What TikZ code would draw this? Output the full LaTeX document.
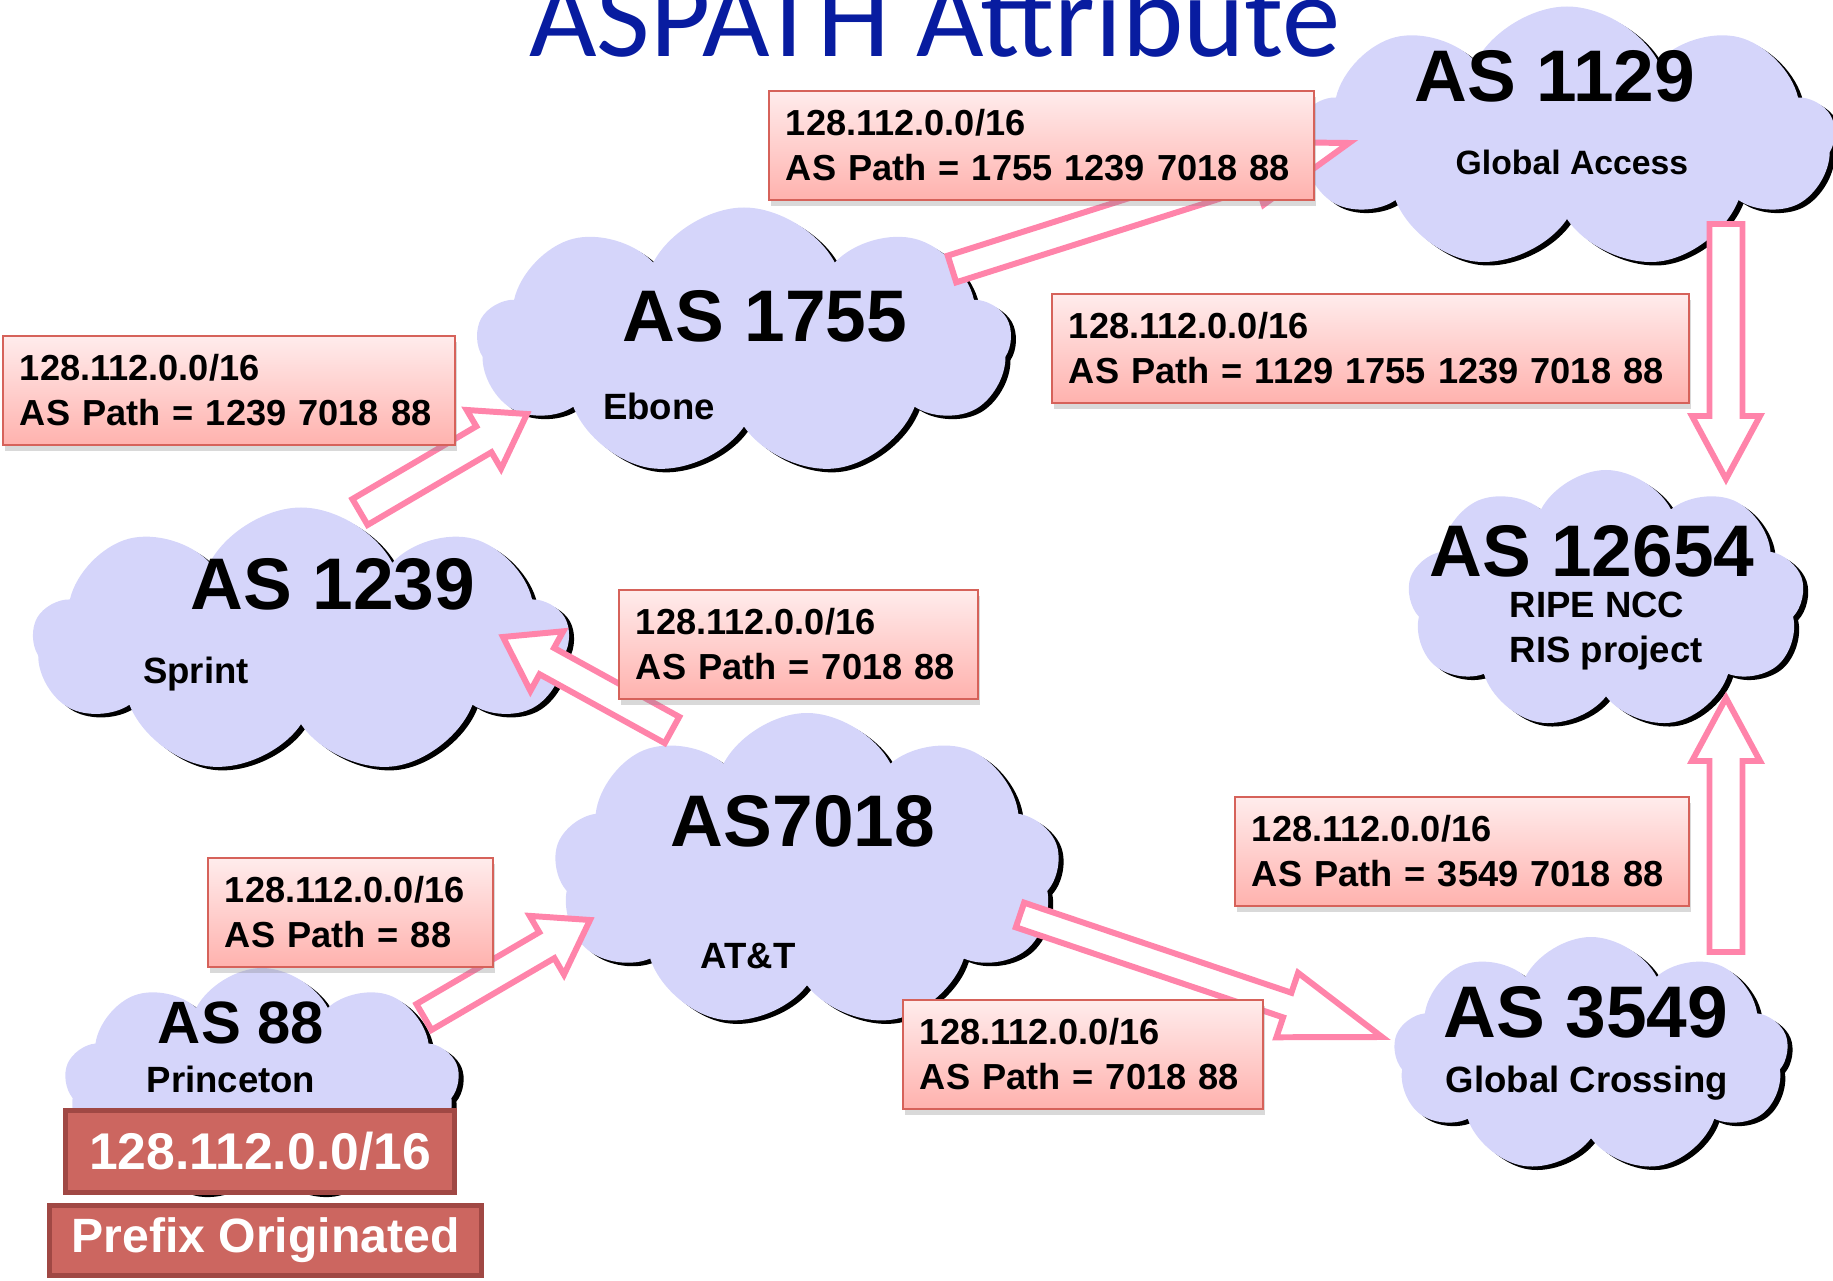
\documentclass[tikz,border=0pt]{standalone}
\usepackage{fontspec}
\setmainfont{Liberation Sans}
\newfontfamily\titlefont{Carlito}
\usetikzlibrary{calc, positioning, shapes.symbols, shadows}

\definecolor{cloudfill}{RGB}{213,213,250}
\definecolor{arrpink}{RGB}{255,132,170}
\definecolor{boxtop}{RGB}{255,236,236}
\definecolor{boxbot}{RGB}{255,178,174}
\definecolor{boxline}{RGB}{214,98,90}
\definecolor{prefixred}{RGB}{204,102,96}
\definecolor{prefixline}{RGB}{160,72,68}
\definecolor{titleblue}{RGB}{8,28,160}

\tikzset{
  % AS clouds
  ascloud/.style={
    cloud, cloud puffs=9, cloud puff arc=125, cloud ignores aspect,
    fill=cloudfill, inner sep=0pt,
    general shadow={fill=black, shadow xshift=0.5mm, shadow yshift=-0.35mm}
  },
  asname/.style={font=\fontsize{20.8}{25}\selectfont\bfseries, anchor=base, inner sep=0pt},
  asorg/.style={font=\fontsize{10.4}{13}\selectfont\bfseries, anchor=base, inner sep=0pt},
  % route labels
  pathbox/.style={
    rectangle, anchor=north west, draw=boxline, line width=0.5pt,
    top color=boxtop, bottom color=boxbot,
    text width=#1, align=left, minimum height=10.9mm,
    inner xsep=1.7mm, inner ysep=0pt,
    font=\fontsize{10.3}{12.8}\selectfont\bfseries,
    drop shadow={shadow xshift=0.2mm, shadow yshift=-0.6mm, opacity=0.3}
  },
  redbox/.style={rectangle, draw=prefixline, fill=prefixred, line width=1.4pt, text=white},
  % hollow block arrow
  harr/.style={draw=arrpink, fill=white, line width=1.7pt, line join=miter},
}

% from, to, half shaft, half head, head length
\newcommand{\blockarrow}[5]{%
  \coordinate (#2b) at ($(#2)!#5!(#1)$);
  \draw[harr] ($(#1)!#3!90:(#2)$) -- ($(#2b)!#3!90:(#2)$)
    -- ($(#2b)!#4!90:(#2)$) -- (#2)
    -- ($(#2b)!#4!-90:(#2)$) -- ($(#2b)!#3!-90:(#2)$)
    -- ($(#1)!#3!-90:(#2)$) -- cycle;
}

\begin{document}
\begin{tikzpicture}[x=0.1mm, y=-0.1mm]
  \useasboundingbox (0,0) rectangle (1833,1281);

  % clouds
  \node (as1129) [ascloud, minimum width=53.5mm, minimum height=26.3mm] at (1567,138) {};
  \node (as1755) [ascloud, minimum width=53.4mm, minimum height=26.9mm] at (744,342) {};
  \node (as1239) [ascloud, minimum width=53.6mm, minimum height=26.7mm] at (301,641) {};
  \node (as7018) [ascloud, minimum width=50.6mm, minimum height=31.6mm] at (807,871) {};
  \node (as88) [ascloud, minimum width=39.5mm, minimum height=23.2mm] at (262,1084) {};
  \node (as12654) [ascloud, minimum width=39.7mm, minimum height=26mm] at (1606,600) {};
  \node (as3549) [ascloud, minimum width=39.5mm, minimum height=23.6mm] at (1591,1055) {};

  \node (n1129) [asname] at (1555,102) {AS 1129};
  \node (o1129) [asorg, font=\fontsize{9.6}{12}\selectfont\bfseries] at (1572,175) {Global Access};
  \node (n1755) [asname] at (765,342) {AS 1755};
  \node (o1755) [asorg] at (659,420) {Ebone};
  \node (n1239) [asname] at (333,610) {AS 1239};
  \node (o1239) [asorg] at (196,684) {Sprint};
  \node (n7018) [asname] at (803,847) {AS7018};
  \node (o7018) [asorg] at (748,969) {AT\&T};
  \node (n88) [asname, font=\fontsize{17}{20}\selectfont\bfseries] at (241,1043) {AS 88};
  \node (o88) [asorg] at (231,1093) {Princeton};
  \node (n12654) [asname] at (1592,577) {AS 12654};
  \node (o12654) [asorg, anchor=base west] at (1509,618) {RIPE NCC};
  \node (r12654) [asorg, anchor=base west] at (1509,663) {RIS project};
  \node (n3549) [asname] at (1586,1038) {AS 3549};
  \node (o3549) [asorg] at (1587,1093) {Global Crossing};

  % arrow ends
  \coordinate (t88) at (424,1017);
  \coordinate (h7018) at (590,920);
  \coordinate (t7018) at (672,730);
  \coordinate (h1239) at (503,637);
  \coordinate (t1239) at (360,512);
  \coordinate (h1755) at (527,414);
  \coordinate (t1755) at (952,269);
  \coordinate (h1129) at (1349,143);
  \coordinate (t1129) at (1726,224);
  \coordinate (h12654) at (1726,479);
  \coordinate (t3549) at (1726,952);
  \coordinate (u12654) at (1726,698);
  \coordinate (u7018) at (1020,915);
  \coordinate (h3549) at (1382,1037);

  \blockarrow{t88}{h7018}{1.5mm}{3.4mm}{5mm}
  \blockarrow{t7018}{h1239}{1.5mm}{3.4mm}{5mm}
  \blockarrow{t1239}{h1755}{1.5mm}{3.4mm}{5mm}
  \blockarrow{t1755}{h1129}{1.4mm}{3.3mm}{10mm}
  \blockarrow{t1129}{h12654}{1.65mm}{3.4mm}{6.3mm}
  \blockarrow{t3549}{u12654}{1.65mm}{3.4mm}{6.3mm}
  \blockarrow{u7018}{h3549}{1.3mm}{3.4mm}{10mm}

  % route labels
  \node (p1755) [pathbox=51.1mm] at (768,90) {128.112.0.0/16\\AS Path = 1755 1239 7018 88};
  \node (p1129) [pathbox=60.3mm] at (1051,293) {128.112.0.0/16\\AS Path = 1129 1755 1239 7018 88};
  \node (p1239) [pathbox=41.8mm] at (2,335) {128.112.0.0/16\\AS Path = 1239 7018 88};
  \node (p7018) [pathbox=32.5mm] at (618,589) {128.112.0.0/16\\AS Path = 7018 88};
  \node (p88) [pathbox=25.1mm] at (207,857) {128.112.0.0/16\\AS Path = 88};
  \node (p3549) [pathbox=42mm] at (1234,796) {128.112.0.0/16\\AS Path = 3549 7018 88};
  \node (q7018) [pathbox=32.6mm] at (902,999) {128.112.0.0/16\\AS Path = 7018 88};

  \node (pfx) [redbox, minimum width=38.9mm, minimum height=8.2mm,
               font=\fontsize{14.7}{17}\selectfont\bfseries] at (260,1151.5) {128.112.0.0/16};
  \node (orig) [redbox, minimum width=43.2mm, minimum height=7mm,
                font=\fontsize{13.7}{16}\selectfont\bfseries] at (265.5,1240.5) {Prefix Originated};

  \node (title) [font=\titlefont\fontsize{33.2}{38}\selectfont, text=titleblue,
                 anchor=base, inner sep=0pt] at (935,57) {ASPATH Attribute};
\end{tikzpicture}
\end{document}
